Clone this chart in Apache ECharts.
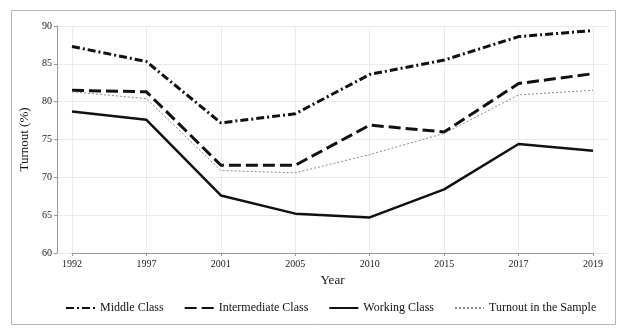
<!DOCTYPE html>
<html><head><meta charset="utf-8">
<script src="https://cdn.jsdelivr.net/npm/echarts@6/dist/echarts.min.js"></script>
<style>html,body{margin:0;padding:0;background:#fff}#c{width:624px;height:333px}</style>
</head><body><div id="c"></div>
<script>
const years = ['1992','1997','2001','2005','2010','2015','2017','2019'];
const yTicks = [60,65,70,75,80,85,90];
const middleClass = [87.3,85.3,77.2,78.4,83.6,85.5,88.6,89.4];
const intermediateClass = [81.5,81.3,71.6,71.6,76.9,76.0,82.4,83.7];
const workingClass = [78.7,77.6,67.6,65.2,64.7,68.4,74.4,73.5];
const turnoutSample = [81.3,80.4,70.9,70.6,73.0,75.8,80.9,81.5];

const FONT = 'Liberation Serif';
const chart = echarts.init(document.getElementById('c'), null, {renderer:'canvas'});
const mk = (name, data, color, width, type) => ({
  name, type:'line', data, xAxisIndex:1, yAxisIndex:1, symbol:'none', animation:false,
  lineStyle:{color, width, type}, itemStyle:{color}
});
chart.setOption({
  animation:false,
  textStyle:{fontFamily:FONT},
  graphic:[{type:'rect', shape:{x:11.5,y:10.5,width:604,height:314}, style:{fill:'none',stroke:'#b5b5b5',lineWidth:1}, silent:true, z:-10}],
  grid:[
    {left:57, right:17, top:26, bottom:80},
    {left:72, right:31, top:26, bottom:80}
  ],
  xAxis:[
    {gridIndex:0, type:'value', show:false, min:0, max:1},
    {gridIndex:1, type:'category', data:years, boundaryGap:false,
     name:'Year', nameLocation:'middle', nameGap:20,
     nameTextStyle:{fontFamily:FONT, fontSize:13, color:'#111'},
     axisLine:{lineStyle:{color:'#999', width:1}},
     axisTick:{show:true, alignWithLabel:true, length:3, lineStyle:{color:'#999'}},
     axisLabel:{fontFamily:FONT, fontSize:10, color:'#222', margin:6},
     splitLine:{show:true, lineStyle:{color:'#ebebeb', width:1}}}
  ],
  yAxis:[
    {gridIndex:0, type:'value', min:60, max:90, interval:5,
     name:'Turnout (%)', nameLocation:'middle', nameGap:18,
     nameTextStyle:{fontFamily:FONT, fontSize:13, color:'#111'},
     axisLine:{show:true, lineStyle:{color:'#999', width:1}},
     axisTick:{show:true, length:3, lineStyle:{color:'#999'}},
     axisLabel:{fontFamily:FONT, fontSize:10, color:'#222', margin:5,
       formatter:v=>yTicks.includes(v)?String(v):''},
     splitLine:{show:true, lineStyle:{color:'#ebebeb', width:1}}},
    {gridIndex:1, type:'value', min:60, max:90, show:false, splitLine:{show:false}}
  ],
  legend:{
    show:true, top:297, left:60, itemWidth:29, itemHeight:14, itemGap:20,
    textStyle:{fontFamily:FONT, fontSize:12, color:'#111'},
    itemStyle:{opacity:0},
    data:['Middle Class','Intermediate Class','Working Class','Turnout in the Sample']
  },
  series:[
    mk('Middle Class', middleClass, '#111', 3, [8,3,2,3]),
    mk('Intermediate Class', intermediateClass, '#111', 3, [12,5]),
    mk('Working Class', workingClass, '#111', 2.5, 'solid'),
    mk('Turnout in the Sample', turnoutSample, '#8a8a8a', 1, [2,2])
  ]
});
</script></body></html>
